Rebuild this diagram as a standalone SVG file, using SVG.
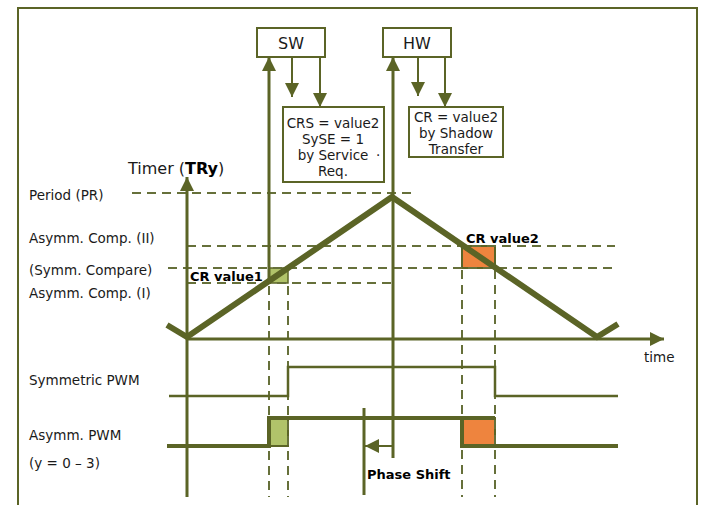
<svg xmlns="http://www.w3.org/2000/svg" width="704" height="505" viewBox="0 0 704 505">
<defs>
<style>
.s{stroke:#5b6426;fill:none}
.d{stroke:#66703a;fill:none;stroke-width:2;stroke-dasharray:9,6}
.box{fill:#fff;stroke:#5b6426;stroke-width:2}
text{font-family:"DejaVu Sans",Verdana,sans-serif;fill:#1a1a1a;font-size:13.5px}
.b{font-weight:bold;fill:#000}
.m{text-anchor:middle}
</style>
<marker id="ar" markerUnits="userSpaceOnUse" markerWidth="14" markerHeight="14" viewBox="0 0 14 14" refX="14" refY="7" orient="auto">
<path d="M0,0 L14,7 L0,14 Z" fill="#5b6426"/>
</marker>
</defs>
<rect x="0" y="0" width="704" height="505" fill="#fff"/>
<path class="s" stroke-width="2" d="M18,505 V8 H697 V505"/>

<g id="labels">
<text x="29" y="200">Period (PR)</text>
<text x="29" y="243">Asymm. Comp. (II)</text>
<text x="29" y="275">(Symm. Compare)</text>
<text x="29" y="298">Asymm. Comp. (I)</text>
<text x="29" y="385">Symmetric PWM</text>
<text x="29" y="440">Asymm. PWM</text>
<text x="29" y="468">(y = 0 – 3)</text>
<text x="128" y="174" style="font-size:16px">Timer (<tspan class="b">TRy</tspan>)</text>
<text x="644" y="362">time</text>
<text class="b" x="190" y="281" style="font-size:13px">CR value1</text>
<text class="b" x="466" y="243" style="font-size:13px">CR value2</text>
<text class="b" x="367" y="479" style="font-size:13px">Phase Shift</text>
</g>

<g id="fills">
<rect x="269" y="268" width="19" height="15" fill="#b1c36a" stroke="#5b6426" stroke-width="1.5"/>
<rect x="462" y="246" width="33" height="22" fill="#ee843e" stroke="#5b6426" stroke-width="2"/>
<rect x="269" y="418" width="19" height="28" fill="#b1c36a" stroke="#5b6426" stroke-width="2"/>
<rect x="462" y="418" width="33" height="28" fill="#ee843e" stroke="#5b6426" stroke-width="2"/>
</g>

<g id="connectors">
<line class="d" x1="132" y1="193" x2="415" y2="193"/>
<line class="d" x1="187" y1="246" x2="615" y2="246"/>
<line class="d" x1="168" y1="268" x2="615" y2="268"/>
<line class="d" x1="187" y1="283" x2="392" y2="283"/>
<line class="d" x1="269" y1="286" x2="269" y2="497"/>
<line class="d" x1="288" y1="286" x2="288" y2="497"/>
<line class="d" x1="462" y1="270" x2="462" y2="497"/>
<line class="d" x1="495" y1="270" x2="495" y2="497"/>

<line class="s" stroke-width="3" x1="187" y1="497" x2="187" y2="177" marker-end="url(#ar)"/>
<line class="s" stroke-width="3" x1="187" y1="339" x2="664" y2="339" marker-end="url(#ar)"/>
<line class="s" stroke-width="3" x1="269" y1="283" x2="269" y2="57" marker-end="url(#ar)"/>
<line class="s" stroke-width="3" x1="393" y1="458" x2="393" y2="57" marker-end="url(#ar)"/>
<line class="s" stroke-width="2" x1="292" y1="57" x2="292" y2="97" marker-end="url(#ar)"/>
<line class="s" stroke-width="2" x1="320" y1="57" x2="320" y2="107" marker-end="url(#ar)"/>
<line class="s" stroke-width="2" x1="418" y1="57" x2="418" y2="96" marker-end="url(#ar)"/>
<line class="s" stroke-width="2" x1="445" y1="57" x2="445" y2="107" marker-end="url(#ar)"/>
<line class="s" stroke-width="2" x1="393" y1="446" x2="365" y2="446" marker-end="url(#ar)"/>
<line class="s" stroke-width="3" x1="364" y1="408" x2="364" y2="495"/>

<polyline class="s" stroke-width="6" stroke-linejoin="miter" points="167,325 187,337 392,197 597,337 618,324"/>
<polyline class="s" stroke-width="2.5" points="169,396 288,396 288,367 495,367 495,396 618,396"/>
<polyline class="s" stroke-width="4" points="167,446 269,446 269,418 462,418 462,446 618,446"/>
<line class="s" stroke-width="4" x1="462" y1="418" x2="495" y2="418"/>
</g>

<g id="sw">
<rect class="box" x="257" y="28" width="68" height="29"/>
<text class="m" x="291" y="49" style="font-size:16px">SW</text>
</g>
<g id="hw">
<rect class="box" x="383" y="28" width="68" height="29"/>
<text class="m" x="417" y="49" style="font-size:16px">HW</text>
</g>
<g id="crs">
<rect class="box" x="283" y="107" width="101" height="75"/>
<text class="m" x="333" y="128">CRS = value2</text>
<text class="m" x="333" y="144">SySE = 1</text>
<text class="m" x="333" y="160">by Service</text>
<text x="376" y="160">·</text>
<text class="m" x="333" y="176">Req.</text>
</g>
<g id="cr">
<rect class="box" x="409" y="107" width="94" height="50"/>
<text class="m" x="456" y="122">CR = value2</text>
<text class="m" x="456" y="138">by Shadow</text>
<text class="m" x="456" y="154">Transfer</text>
</g>
</svg>
